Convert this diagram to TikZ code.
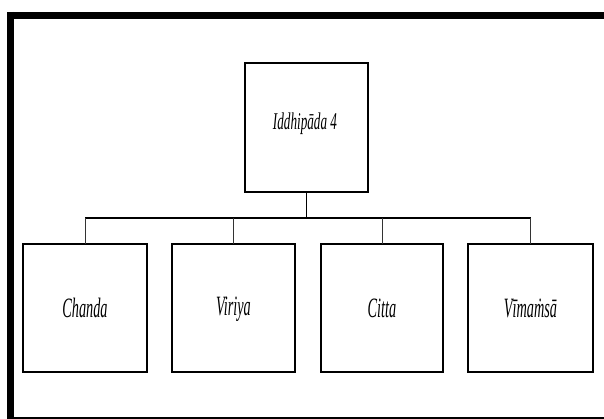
\documentclass[tikz,border=0pt]{standalone}
\usepackage{fontspec}
\setmainfont{Liberation Serif}
\begin{document}
\begin{tikzpicture}[x=1pt,y=-1pt,
  boxline/.style={line width=1.4pt},
  lbl/.style={font=\itshape,inner sep=0pt},
  link/.style={draw=black!80,line width=1pt}]
  \useasboundingbox (0,0) rectangle (604,419);
  % outer frame (open on the right)
  \draw[line width=7pt] (7,15.5) -- (604,15.5);
  \draw[line width=7pt] (10.5,12) -- (10.5,419);
  \draw[line width=2pt] (14,417.5) -- (604,417.5);
  % boxes
  \draw[boxline] (245,63) rectangle (368,192);
  \draw[boxline] (23,244) rectangle (147,372);
  \draw[boxline] (172,244) rectangle (295,372);
  \draw[boxline] (321,244) rectangle (443,372);
  \draw[boxline] (468,244) rectangle (593,372);
  \coordinate (root) at (306.5,192);
  \coordinate (c1) at (85,244);
  \coordinate (c2) at (233.5,244);
  \coordinate (c3) at (382,244);
  \coordinate (c4) at (530.5,244);
  \coordinate (bus) at (306.5,218);
  % labels
  \node[lbl] (top) at (305,124) {\scalebox{0.55}[1]{\fontsize{24}{26}\selectfont Iddhipāda 4}};
  \node[lbl] (a) at (85,308) {\scalebox{0.51}[1]{\fontsize{28}{30}\selectfont Chanda}};
  \node[lbl] (b) at (233.5,309) {\scalebox{0.51}[1]{\fontsize{28}{30}\selectfont Viriya}};
  \node[lbl] (c) at (382,308) {\scalebox{0.51}[1]{\fontsize{28}{30}\selectfont Citta}};
  \node[lbl] (d) at (530.5,308) {\scalebox{0.51}[1]{\fontsize{28}{30}\selectfont Vīmaṁsā}};
  % connectors
  \draw[line width=1.6pt] (root) -- (bus);
  \draw[line width=1.4pt] (c1 |- bus) -- (c4 |- bus);
  \draw[link] (c1 |- bus) -- (c1);
  \draw[link] (c2 |- bus) -- (c2);
  \draw[link] (c3 |- bus) -- (c3);
  \draw[link] (c4 |- bus) -- (c4);
\end{tikzpicture}
\end{document}
